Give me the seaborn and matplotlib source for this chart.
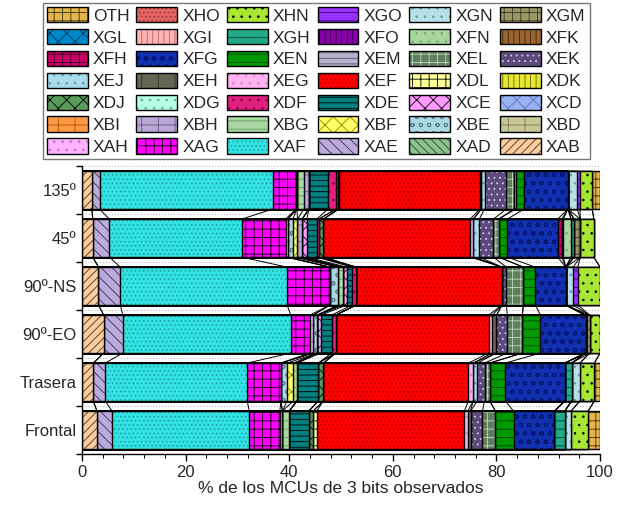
import pandas as pd
import matplotlib.pyplot as plt
import seaborn as sns
from matplotlib.patches import Patch
from matplotlib.ticker import MultipleLocator

# Rows of the chart (top to bottom) and stacked categories (left to right)
rows = ["135º", "45º", "90º-NS", "90º-EO", "Trasera", "Frontal"]
codes = ["XAB", "XAD", "XAE", "XAF", "XAG", "XAH", "XBD", "XBE", "XBF", "XBG",
         "XBH", "XBI", "XCD", "XCE", "XDE", "XDF", "XDG", "XDJ", "XDK", "XDL",
         "XEF", "XEG", "XEH", "XEJ", "XEK", "XEL", "XEM", "XEN", "XFG", "XFH",
         "XFK", "XFN", "XFO", "XGH", "XGI", "XGL", "XGM", "XGN", "XGO", "XHN",
         "XHO", "OTH"]

# % of observed 3-bit MCUs (values not listed are ~0)
pct_135 = {"XAB": 1.9, "XAE": 1.5, "XAF": 33.4, "XAG": 4.5, "XAH": 0.2, "XBG": 1.3,
           "XBH": 1.0, "XDE": 3.7, "XDF": 1.5, "XDJ": 0.4, "XDL": 0.3, "XEF": 27.1,
           "XEG": 0.3, "XEJ": 0.6, "XEK": 4.2, "XEL": 1.5, "XEM": 0.3, "XEN": 1.6,
           "XFG": 8.5, "XGN": 1.8, "XGO": 0.5, "XHN": 2.4, "OTH": 1.5}
pct_45 = {"XAB": 2.1, "XAE": 3.2, "XAF": 25.5, "XAG": 8.5, "XAH": 0.4, "XBE": 1.0,
          "XBF": 0.9, "XBH": 0.9, "XCE": 0.9, "XDE": 1.9, "XDF": 0.4, "XDJ": 0.9,
          "XEF": 28.3, "XEG": 0.6, "XEJ": 1.2, "XEK": 2.7, "XEL": 1.0, "XEN": 1.7,
          "XFG": 9.7, "XFH": 0.8, "XFK": 0.3, "XFN": 1.5, "XGH": 0.6, "XGM": 1.2,
          "XHN": 2.6}
pct_90ns = {"XAB": 3.2, "XAE": 4.2, "XAF": 32.2, "XAG": 8.3, "XBE": 1.6, "XBG": 0.8,
            "XCE": 0.8, "XDE": 1.0, "XDF": 0.8, "XEF": 28.2, "XEK": 0.8, "XEL": 3.3,
            "XEN": 2.3, "XFG": 5.9, "XGN": 1.4, "XGO": 0.9, "XHN": 4.3}
pct_90eo = {"XAB": 4.2, "XAE": 3.7, "XAF": 32.4, "XAG": 3.7, "XAH": 0.6, "XBE": 0.8,
            "XCE": 0.7, "XDE": 2.1, "XDF": 0.8, "XEF": 29.5, "XEG": 0.7, "XEH": 0.8,
            "XEK": 2.1, "XEL": 2.9, "XEN": 3.5, "XFG": 8.7, "XGM": 0.8, "XHN": 2.0}
pct_trasera = {"XAB": 2.2, "XAE": 2.3, "XAF": 27.4, "XAG": 6.5, "XBE": 1.2, "XBF": 1.2,
               "XBG": 0.7, "XDE": 4.1, "XDJ": 1.0, "XEF": 28.0, "XEG": 0.9, "XEJ": 0.8,
               "XEK": 1.4, "XEL": 1.0, "XEN": 3.0, "XFG": 11.5, "XGH": 1.3, "XGN": 1.6,
               "XHN": 2.8, "OTH": 1.1}
pct_frontal = {"XAB": 2.9, "XAE": 2.9, "XAF": 26.5, "XAG": 5.9, "XAH": 0.5, "XBG": 1.3,
               "XDE": 3.8, "XDJ": 0.8, "XDL": 0.7, "XEF": 28.5, "XEG": 0.7, "XEH": 0.5,
               "XEK": 2.3, "XEL": 2.5, "XEN": 3.5, "XFG": 7.9, "XGH": 2.0, "XGN": 1.2,
               "XHN": 3.3, "OTH": 2.3}

# fill colour, hatch, hatch colour for each category
styles = {
    "XAB": ("#FFCC99", "////", "#333333"), "XAD": ("#8FC08F", "\\\\\\\\", "#1F4F1F"),
    "XAE": ("#BBAADD", "\\\\\\", "#333344"), "XAF": ("#33E3E3", "....", "#1E9E9E"),
    "XAG": ("#FF00FF", "++", "#000000"), "XAH": ("#FFB3FF", "..", "#CC66CC"),
    "XBD": ("#C8C896", "+", "#777755"), "XBE": ("#A8D8E0", "oo", "#557788"),
    "XBF": ("#FFFF66", "xx", "#888800"), "XBG": ("#A8D8A0", "--", "#669966"),
    "XBH": ("#B8A8D8", "+", "#665577"), "XBI": ("#FF9944", "+", "#AA5500"),
    "XCD": ("#99B3F0", "xx", "#5577CC"), "XCE": ("#FF99FF", "xx", "#000000"),
    "XDE": ("#008080", "---", "#000000"), "XDF": ("#E0207F", "..", "#880044"),
    "XDG": ("#B3FFE6", "..", "#66AA99"), "XDJ": ("#5A9A5A", "xx", "#000000"),
    "XDK": ("#E6E633", "|||", "#666600"), "XDL": ("#FFFF99", "++", "#000000"),
    "XEF": ("#FF0000", "....", "#B00000"), "XEG": ("#FFB3F0", "..", "#CC88BB"),
    "XEH": ("#666655", "|", "#333322"), "XEJ": ("#A8DDEE", "..", "#6699AA"),
    "XEK": ("#5B4A7A", "...", "#D8C8F0"), "XEL": ("#5E7E5E", "++", "#C0DCC0"),
    "XEM": ("#B8B0D0", "---", "#555566"), "XEN": ("#009900", "--", "#004400"),
    "XFG": ("#1030B0", "oo", "#001166"), "XFH": ("#CC0066", "++", "#330022"),
    "XFK": ("#996633", "|||", "#442200"), "XFN": ("#A8D8A0", "..", "#77AA77"),
    "XFO": ("#8800AA", "|||", "#330044"), "XGH": ("#22AA88", "--", "#004433"),
    "XGI": ("#FFB3B3", "|||", "#AA6666"), "XGL": ("#0088CC", "xx", "#003355"),
    "XGM": ("#999966", "++", "#333322"), "XGN": ("#B8E0E8", "..", "#6699AA"),
    "XGO": ("#9933FF", "--", "#330066"), "XHN": ("#A8E633", "..", "#000000"),
    "XHO": ("#E06666", "....", "#AA3333"), "OTH": ("#E6B34D", "++", "#333300"),
}

row_data = [pct_135, pct_45, pct_90ns, pct_90eo, pct_trasera, pct_frontal]
records = []
for r, d in zip(rows, row_data):
    for c in codes:
        records.append({"row": r, "code": c, "value": d.get(c, 0.0)})
df = pd.DataFrame(records)
df["right"] = df.groupby("row", sort=False)["value"].cumsum()

sns.set_theme(style="white")
plt.rcParams["font.family"] = ["Liberation Sans", "DejaVu Sans"]
plt.rcParams["hatch.linewidth"] = 0.6

fig = plt.figure(figsize=(6.35, 5.05), dpi=100)
ax = fig.add_axes([0.129, 0.101, 0.816, 0.570])

bar_w = 0.79
# stacked by overlaying cumulative bars, widest first
for c in codes[::-1]:
    sub = df[df["code"] == c]
    face, hatch, hc = styles[c]
    sns.barplot(data=sub, x="right", y="row", order=rows, orient="h", width=bar_w,
                color=face, saturation=1, errorbar=None, hatch=hatch, edgecolor=hc,
                linewidth=0, ax=ax)
    sns.barplot(data=sub, x="right", y="row", order=rows, orient="h", width=bar_w,
                fill=False, errorbar=None, edgecolor="black", linewidth=1.0, ax=ax)

# series lines joining segment boundaries of neighbouring bars
piv = df.pivot(index="row", columns="code", values="right").loc[rows, codes]
for i in range(len(rows) - 1):
    for c in codes[:-1]:
        ax.plot([piv.loc[rows[i], c], piv.loc[rows[i + 1], c]],
                [i + bar_w / 2, i + 1 - bar_w / 2], color="black", lw=0.7, zorder=1)

ax.set_xlim(0, 100)
ax.set_ylim(len(rows) - 0.5, -0.5)
ax.xaxis.set_major_locator(MultipleLocator(20))
ax.xaxis.set_minor_locator(MultipleLocator(4))
ax.set_yticks([i + 0.5 for i in range(-1, len(rows))], minor=True)
ax.tick_params(axis="x", which="major", direction="out", length=5, width=1,
               labelsize=12, color="black", bottom=True, pad=3)
ax.tick_params(axis="x", which="minor", direction="out", length=3, width=0.8,
               color="black", bottom=True)
ax.tick_params(axis="y", which="major", length=0, labelsize=12, pad=4)
ax.tick_params(axis="y", which="minor", direction="out", length=4, width=1,
               color="black", left=True)
ax.grid(False)
ax.yaxis.grid(True, which="minor", color="#BBBBBB", linestyle=":", linewidth=0.8)
ax.set_axisbelow(True)
for s in ["top", "right"]:
    ax.spines[s].set_visible(False)
for s in ["left", "bottom"]:
    ax.spines[s].set_color("black")
    ax.spines[s].set_linewidth(1.0)
ax.set_ylabel("")
ax.set_xlabel("% de los MCUs de 3 bits observados", fontsize=12.5, labelpad=1)

# legend: reversed stacking order, filled row by row
rev = codes[::-1]
ncol, nrow = 6, 7
ordered = [rev[r * ncol + col] for col in range(ncol) for r in range(nrow)]
handles = [(Patch(facecolor=styles[c][0], hatch=styles[c][1], edgecolor=styles[c][2], lw=0),
            Patch(facecolor="none", edgecolor="black", lw=1.0)) for c in ordered]
leg = fig.legend(handles, ordered, loc="upper left", bbox_to_anchor=(0.067, 0.995),
                 ncol=ncol, fontsize=12.5, frameon=True, fancybox=False,
                 edgecolor="#555555", handlelength=2.35, handleheight=1.0,
                 labelspacing=0.3, columnspacing=0.4, handletextpad=0.3,
                 borderpad=0.25, borderaxespad=0)
leg.get_frame().set_linewidth(1.0)

fig.savefig("out.png", dpi=100)
